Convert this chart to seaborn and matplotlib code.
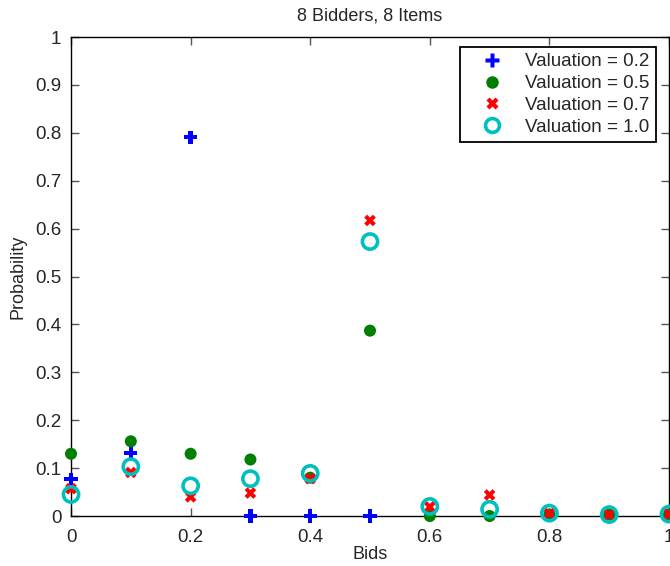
import numpy as np
import pandas as pd
import matplotlib
matplotlib.use("Agg")
import matplotlib.pyplot as plt
import seaborn as sns
from matplotlib.lines import Line2D

sns.set_style("ticks")
plt.rcParams['font.family'] = ['Liberation Sans', 'DejaVu Sans']

bids = [0.0, 0.1, 0.2, 0.3, 0.4, 0.5, 0.6, 0.7, 0.8, 0.9, 1.0]
bids_v02 = [0.0, 0.1, 0.2, 0.3, 0.4, 0.5]
prob_v02 = [0.077, 0.132, 0.791, 0.0, 0.0, 0.0]
prob_v05 = [0.130, 0.156, 0.130, 0.118, 0.080, 0.387, 0.0, 0.0, 0.003, 0.003, 0.003]
prob_v07 = [0.057, 0.091, 0.040, 0.048, 0.078, 0.617, 0.019, 0.044, 0.005, 0.003, 0.004]
prob_v10 = [0.045, 0.103, 0.063, 0.078, 0.089, 0.573, 0.020, 0.014, 0.006, 0.003, 0.004]
labels = ["Valuation = 0.2", "Valuation = 0.5", "Valuation = 0.7", "Valuation = 1.0"]
colors = ["#0000ff", "#007f00", "#ff0000", "#00bfbf"]

fig = plt.figure(figsize=(6.7, 5.66), dpi=100)
ax = fig.add_axes([0.106, 0.0883, 0.8925, 0.8463])

sns.scatterplot(x=bids_v02, y=prob_v02, marker="P", s=90, color=colors[0],
                edgecolor="none", ax=ax, clip_on=False, zorder=3)
sns.scatterplot(x=bids, y=prob_v05, marker="o", s=75, color=colors[1],
                edgecolor="none", ax=ax, clip_on=False, zorder=3)
sns.scatterplot(x=bids, y=prob_v07, marker="X", s=70, color=colors[2],
                edgecolor="none", ax=ax, clip_on=False, zorder=3)
sns.scatterplot(x=bids, y=prob_v10, marker="o", s=120, facecolors="none",
                edgecolor=colors[3], linewidth=2.6, ax=ax, clip_on=False, zorder=3)

ax.set_xlim(0, 1)
ax.set_ylim(0, 1)
ax.set_xticks(np.arange(0, 1.01, 0.2))
ax.set_xticklabels(["0", "0.2", "0.4", "0.6", "0.8", "1"])
ax.set_yticks(np.arange(0, 1.01, 0.1))
ax.set_yticklabels(["0", "0.1", "0.2", "0.3", "0.4", "0.5", "0.6", "0.7", "0.8", "0.9", "1"])
ax.tick_params(direction="in", top=True, right=True, length=6, width=1,
               labelsize=13.5, color="#555555")
ax.tick_params(axis="x", pad=9)
ax.tick_params(axis="y", pad=7)
for sp in ax.spines.values():
    sp.set_visible(True)
    sp.set_color("black")
    sp.set_linewidth(1.0)

ax.set_xlabel("Bids", fontsize=13, labelpad=0)
ax.set_ylabel("Probability", fontsize=13, labelpad=6)
ax.set_title("8 Bidders, 8 Items", fontsize=13, pad=12)

handles = [
    Line2D([], [], ls="", marker="P", ms=10, color=colors[0], mec="none"),
    Line2D([], [], ls="", marker="o", ms=9, color=colors[1], mec="none"),
    Line2D([], [], ls="", marker="X", ms=8.5, color=colors[2], mec="none"),
    Line2D([], [], ls="", marker="o", ms=10, mfc="none", mec=colors[3], mew=2.6),
]
leg = ax.legend(handles, labels, loc="upper right", bbox_to_anchor=(0.978, 0.98),
                borderaxespad=0, fontsize=13.5, frameon=True, fancybox=False,
                framealpha=1, edgecolor="black", handletextpad=0.4,
                labelspacing=0.25, borderpad=0.35, handlelength=2.7)
leg.get_frame().set_linewidth(1.3)

fig.savefig("out.png", dpi=100)
